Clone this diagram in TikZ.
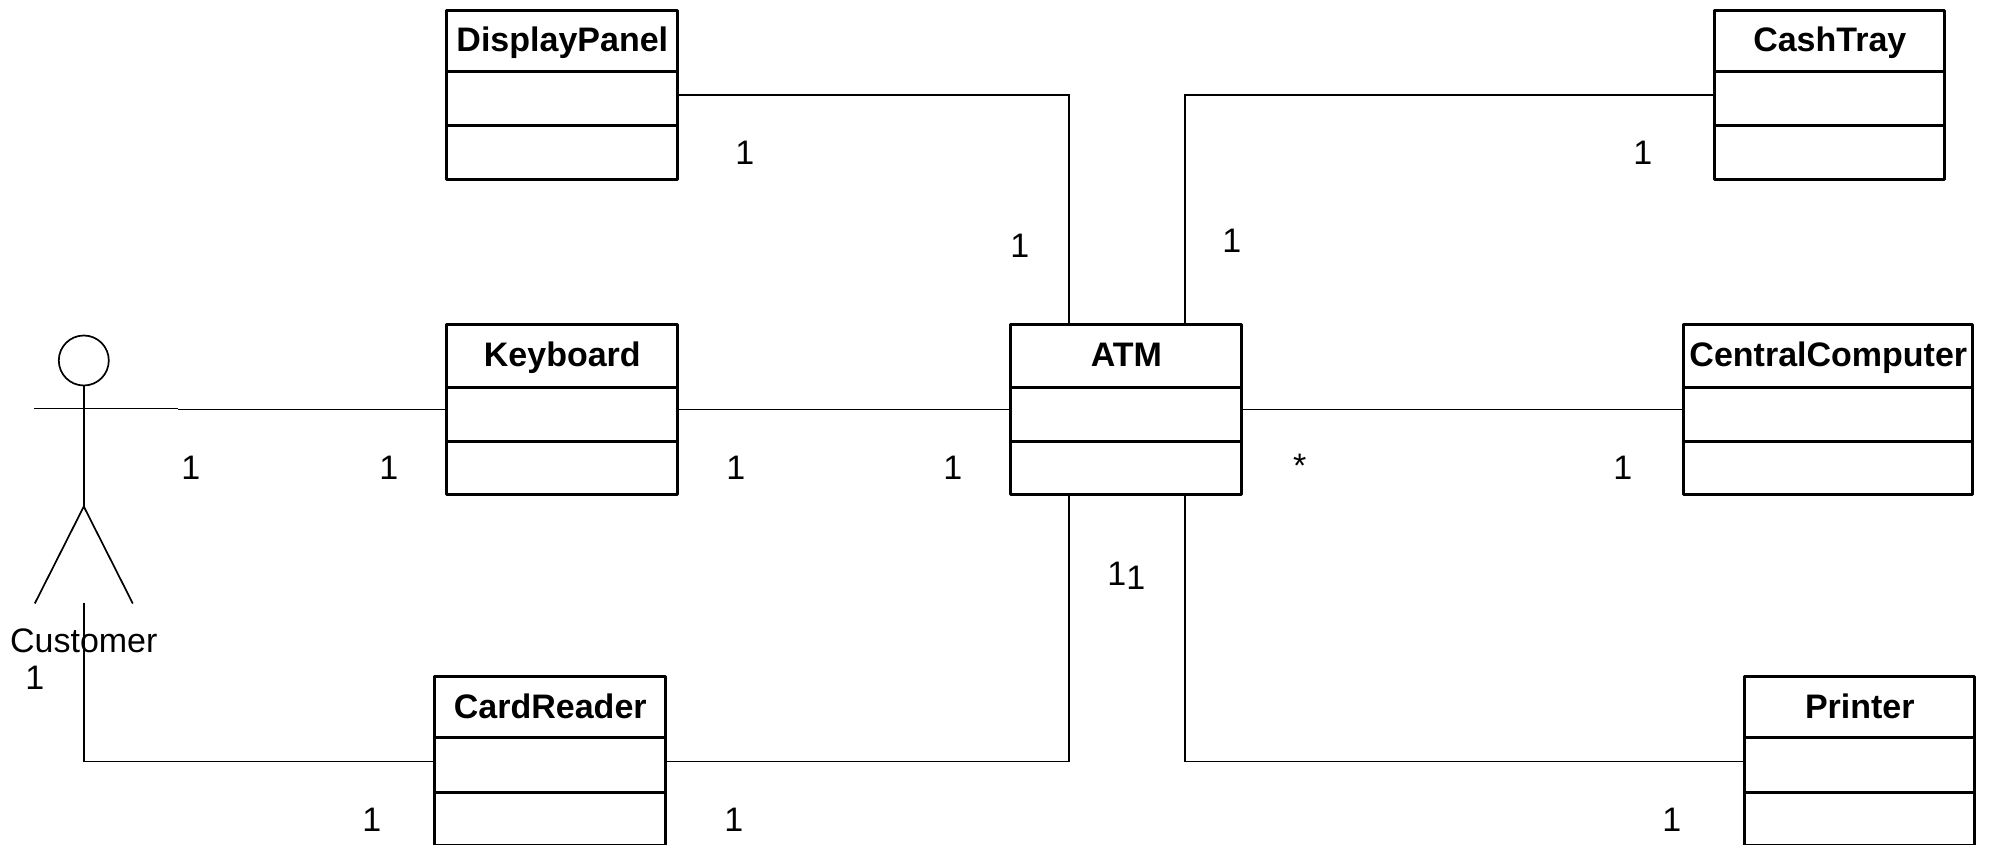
\documentclass[tikz,border=0pt]{standalone}
\usepackage{fontspec}
\setmainfont{Liberation Sans}
\newcommand{\umlclass}[8]{%name x1 y1 x2 y2 d1 d2 title
  \node[classbox,minimum width={(#4-#2)*0.5pt},minimum height={(#5-#3)*0.5pt}] (#1) at ({(#2+#4)/2},{(#3+#5)/2}) {};
  \draw[classline] (#2,#6) -- (#4,#6);
  \draw[classline] (#2,#7) -- (#4,#7);
  \node[classtitle] (#1-title) at ({(#2+#4)/2},#3+41.5) {#8};
}
\tikzset{
  classbox/.style={draw=black,line width=1.6pt,fill=white,inner sep=0pt,outer sep=0pt,rectangle,line join=round},
  classline/.style={draw=black,line width=1.6pt},
  classtitle/.style={anchor=base,inner sep=0pt,font=\fontsize{17}{20}\selectfont\bfseries},
  mult/.style={inner sep=0pt,font=\fontsize{17}{20}\selectfont},
  conn/.style={draw=black,line width=0.85pt,line join=miter},
  stick/.style={draw=black,line width=0.85pt}
}
\begin{document}
\begin{tikzpicture}[x=0.5pt,y=-0.5pt]
\useasboundingbox (0.2,-0.5) rectangle (1990.2,844.5);
\fill[white] (0.2,-0.5) rectangle (1990.2,844.5);
\begin{scope}
\clip (0.2,-0.5) rectangle (1990.2,844.5);
\umlclass{dp}{447}{10}{678}{179}{71}{125}{DisplayPanel}
\umlclass{kb}{447}{324}{678}{494}{387}{441}{Keyboard}
\umlclass{atm}{1011}{324}{1242}{494}{387}{441}{ATM}
\umlclass{cr}{435}{676}{666}{845}{737}{792}{CardReader}
\umlclass{ct}{1715}{10}{1945}{179}{71}{125}{CashTray}
\umlclass{cc}{1684}{324}{1973}{494}{387}{441}{CentralComputer}
\umlclass{pr}{1745}{676}{1975}{845}{737}{792}{Printer}
\end{scope}
% actor
\node[draw=black,line width=0.85pt,circle,minimum size=25pt,inner sep=0pt] (head) at (84,360) {};
\coordinate (hip) at (84,506);
\coordinate (armL) at (34,408);
\coordinate (armR) at (178,408);
\coordinate (legL) at (35,603);
\coordinate (legR) at (133,603);
\coordinate (tail) at (84,602);
\draw[stick] (head.south) -- (hip);
\draw[stick] (armL) -- (armR);
\draw[stick] (legL) -- (hip) -- (legR);
\node[mult] (custname) at (84,640) {Customer};
% anchor points on ATM
\coordinate (atmNL) at (1069,324);
\coordinate (atmNR) at (1185,324);
\coordinate (atmSL) at (1069,494);
\coordinate (atmSR) at (1185,494);
% connectors
\draw[conn] (dp.east) -| (atmNL);
\draw[conn] (ct.west) -| (atmNR);
\draw[conn] (armR |- kb.west) -- (kb.west);
\draw[conn] (kb.east) -- (atm.west);
\draw[conn] (atm.east) -- (cc.west);
\draw[conn] (atmSL) |- (cr.east |- 0,761);
\draw[conn] (atmSR) |- (pr.west |- 0,761);
\draw[conn] (tail) |- (cr.west |- 0,761);
% multiplicities
\node[mult] (m1) at (745,152) {1};
\node[mult] (m2) at (1020,245) {1};
\node[mult] (m3) at (1232,240) {1};
\node[mult] (m4) at (1643,152) {1};
\node[mult] (m5) at (191,467) {1};
\node[mult] (m6) at (389,467) {1};
\node[mult] (m7) at (736,467) {1};
\node[mult] (m8) at (953,467) {1};
\node[mult] (m9) at (1300,465) {*};
\node[mult] (m10) at (1623,467) {1};
\node[mult] (m11) at (1117,573) {1};
\node[mult] (m12) at (1136,577) {1};
\node[mult] (m13) at (35,677) {1};
\node[mult] (m14) at (372,819) {1};
\node[mult] (m15) at (734,819) {1};
\node[mult] (m16) at (1672,819) {1};
\end{tikzpicture}
\end{document}
